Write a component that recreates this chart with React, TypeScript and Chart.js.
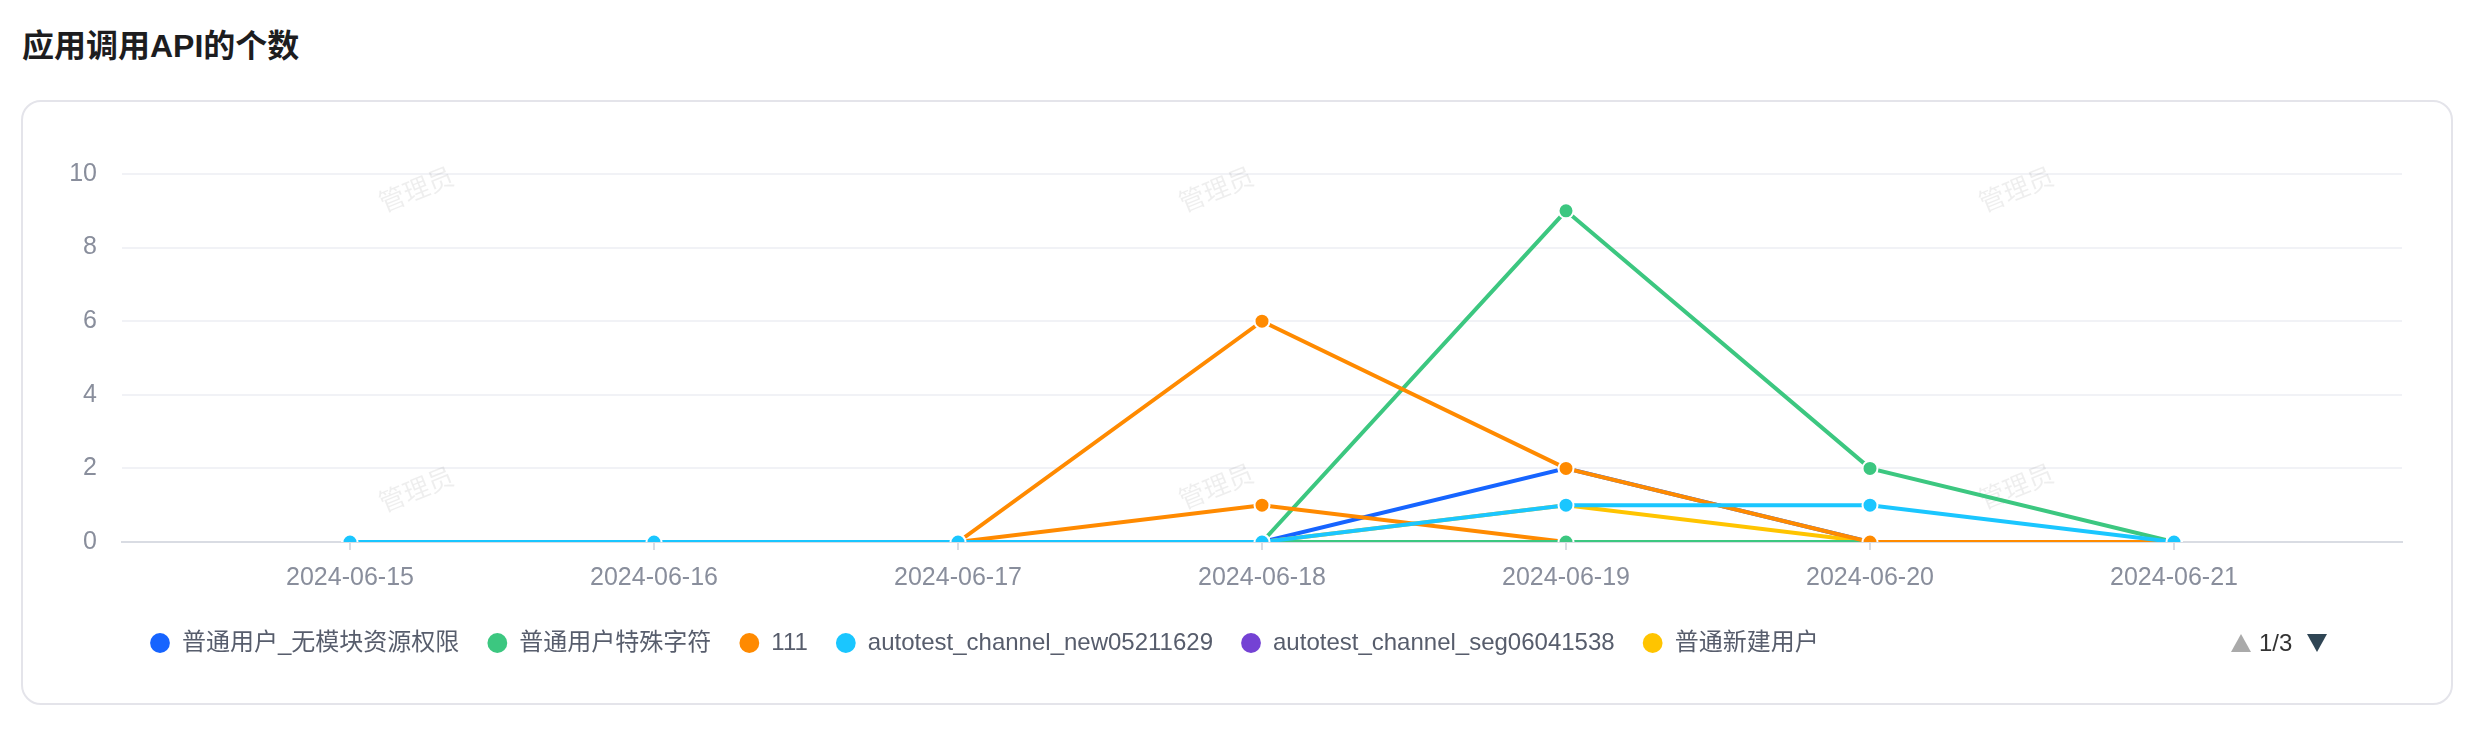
import React, { useEffect, useRef } from 'react';
import { Chart, registerables } from 'chart.js';

Chart.register(...registerables);

const dateLabels = ['2024-06-15', '2024-06-16', '2024-06-17', '2024-06-18', '2024-06-19', '2024-06-20', '2024-06-21'];
const yTickValues = [0, 2, 4, 6, 8, 10];

const seriesNames = [
  '普通用户_无模块资源权限',
  '普通用户特殊字符',
  '111',
  'autotest_channel_new05211629',
  'autotest_channel_seg06041538',
  '普通新建用户',
  'page2_series_1',
  'page2_series_2',
];
const seriesColors = ['#1664FF', '#3CC780', '#FF8A00', '#1AC6FF', '#7442D4', '#FFC400', '#FF8A00', '#3CC780'];
// lower value = drawn on top
const seriesDrawOrder = [6, 4, 1, 0, 7, 5, 3, 2];

const noPermValues: (number | null)[] = [0, 0, 0, 0, 2, 0, 0];
const specialCharValues: (number | null)[] = [0, 0, 0, 0, 9, 2, 0];
const v111Values: (number | null)[] = [0, 0, 0, 6, 2, 0, 0];
const channelNewValues: (number | null)[] = [0, 0, 0, 0, 1, 1, 0];
const channelSegValues: (number | null)[] = [0, 0, 0, 0, 0, 0, 0];
const newUserValues: (number | null)[] = [0, 0, 0, 0, 1, 0, 0];
const page2OrangeValues: (number | null)[] = [0, 0, 0, 1, 0, null, null];
const page2GreenValues: (number | null)[] = [null, null, null, 0, 0, 0, 0];

const allValues = [
  noPermValues,
  specialCharValues,
  v111Values,
  channelNewValues,
  channelSegValues,
  newUserValues,
  page2OrangeValues,
  page2GreenValues,
];

const watermarkText = '管理员';
const FONT = '"Liberation Sans", "Noto Sans CJK SC", sans-serif';

const watermarkPlugin = {
  id: 'watermark',
  beforeDatasetsDraw(chart: any) {
    const ctx = chart.ctx;
    const spots = [
      [416, 189], [1216, 189], [2016, 189],
      [416, 489], [1216, 486], [2016, 486],
    ];
    ctx.save();
    ctx.fillStyle = 'rgba(0,0,0,0.065)';
    ctx.font = '26px "Noto Sans CJK SC", sans-serif';
    ctx.textAlign = 'center';
    ctx.textBaseline = 'middle';
    for (const [x, y] of spots) {
      ctx.save();
      ctx.translate(x, y);
      ctx.rotate(-22 * Math.PI / 180);
      ctx.fillText(watermarkText, 0, 0);
      ctx.restore();
    }
    ctx.restore();
  },
};

export default function App() {
  const canvasRef = useRef<HTMLCanvasElement | null>(null);

  useEffect(() => {
    const canvas = canvasRef.current;
    if (!canvas) return;
    const datasets = allValues.map((vals, i) => ({
      label: seriesNames[i],
      data: vals.map((v, idx) => ({ x: idx, y: v })),
      borderColor: seriesColors[i],
      backgroundColor: seriesColors[i],
      pointBackgroundColor: seriesColors[i],
      pointBorderColor: '#ffffff',
      pointBorderWidth: 2,
      pointRadius: 7.5,
      pointStyle: 'circle',
      borderWidth: 4,
      tension: 0,
      fill: false,
      spanGaps: false,
      clip: 0,
      order: seriesDrawOrder[i],
    }));

    const chart = new Chart(canvas, {
      type: 'line',
      data: { datasets },
      plugins: [watermarkPlugin],
      options: {
        animation: false,
        responsive: false,
        maintainAspectRatio: false,
        layout: { padding: { left: 0, right: 74, top: 174, bottom: 65 } },
        plugins: {
          tooltip: { enabled: false },
          legend: {
            display: true,
            position: 'bottom',
            align: 'start',
            fullSize: false,
            labels: {
              usePointStyle: true,
              pointStyle: 'circle',
              boxWidth: 20,
              boxHeight: 14,
              padding: 28,
              color: '#575d6c',
              font: { family: FONT, size: 24 },
              filter: (item: any) => item.datasetIndex < 6,
              sort: (a: any, b: any) => a.datasetIndex - b.datasetIndex,
              generateLabels: (ch: any) =>
                ch.data.datasets.map((ds: any, i: number) => ({
                  text: ds.label,
                  fillStyle: seriesColors[i],
                  strokeStyle: seriesColors[i],
                  lineWidth: 0,
                  pointStyle: 'circle',
                  hidden: false,
                  datasetIndex: i,
                  fontColor: '#575d6c',
                })),
            },
          },
        },
        scales: {
          x: {
            type: 'linear',
            min: -0.75,
            max: 6.75,
            afterBuildTicks: (scale: any) => {
              scale.ticks = dateLabels.map((_, i) => ({ value: i }));
            },
            afterFit: (scale: any) => {
              scale.height = 61;
              scale.paddingLeft = 0;
              scale.paddingRight = 0;
            },
            ticks: {
              autoSkip: false,
              maxRotation: 0,
              minRotation: 0,
              padding: 13,
              color: '#898e9c',
              font: { family: FONT, size: 25 },
              callback: (v: any) => dateLabels[v] ?? '',
            },
            grid: {
              display: true,
              drawOnChartArea: false,
              drawTicks: true,
              tickLength: 8,
              color: '#d9dce3',
              lineWidth: 2,
            },
            border: { display: true, color: '#d9dce3', width: 2 },
          },
          y: {
            type: 'linear',
            min: 0,
            max: 10,
            afterBuildTicks: (scale: any) => {
              scale.ticks = yTickValues.map((v) => ({ value: v }));
            },
            afterFit: (scale: any) => {
              scale.width = 122;
              scale.paddingTop = 0;
              scale.paddingBottom = 0;
            },
            ticks: {
              padding: 25,
              color: '#898e9c',
              font: { family: FONT, size: 25 },
            },
            grid: {
              drawTicks: false,
              lineWidth: 2,
              color: (c: any) => (c.tick && c.tick.value === 0 ? 'rgba(0,0,0,0)' : '#f1f2f6'),
            },
            border: { display: false },
          },
        },
      },
    });
    return () => chart.destroy();
  }, []);

  return (
    <div style={{ position: 'absolute', left: 0, top: 0, width: 2476, height: 730, background: '#fff', overflow: 'hidden', fontFamily: FONT }}>
      <div style={{ position: 'absolute', left: 22, top: 28, fontSize: 32, fontWeight: 700, lineHeight: '36px', color: '#1d1d1f', whiteSpace: 'nowrap' }}>
        应用调用API的个数
      </div>
      <div style={{ position: 'absolute', left: 21, top: 100, width: 2432, height: 605, border: '2px solid #e4e4ea', borderRadius: 20, boxSizing: 'border-box' }} />
      <canvas ref={canvasRef} width={2476} height={730} style={{ position: 'absolute', left: 0, top: 0, width: 2476, height: 730 }} />
      <div style={{ position: 'absolute', left: 2231, top: 634, width: 0, height: 0, borderLeft: '10px solid transparent', borderRight: '10px solid transparent', borderBottom: '18px solid #aaaaaa' }} />
      <div style={{ position: 'absolute', left: 2259, top: 629, fontSize: 24, lineHeight: '28px', color: '#333333', whiteSpace: 'nowrap' }}>1/3</div>
      <div style={{ position: 'absolute', left: 2307, top: 634, width: 0, height: 0, borderLeft: '10px solid transparent', borderRight: '10px solid transparent', borderTop: '18px solid #2f4554' }} />
    </div>
  );
}
